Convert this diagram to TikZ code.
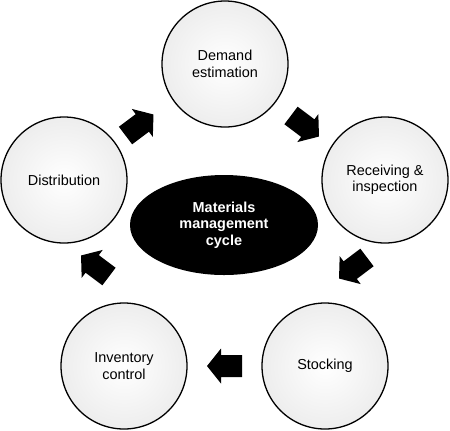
\documentclass[tikz,border=0pt]{standalone}
\usepackage{fontspec}
\setmainfont{Liberation Sans}
\usetikzlibrary{calc,shapes.geometric}

\tikzset{
  blockarrow/.pic={\fill (-17.5,-11) -- (3.5,-11) -- (3.5,-17.5) -- (17.5,0) -- (3.5,17.5) -- (3.5,11) -- (-17.5,11) -- cycle;}
}

\begin{document}
\begin{tikzpicture}[x=1bp,y=-1bp,
    stage/.style={circle,draw,line width=1.3bp,minimum size=126bp,inner sep=0pt,align=center,
      shading=radial,inner color=white,outer color=black!7,
      font=\fontsize{14.5}{16.5}\selectfont},
    hub/.style={ellipse,fill=black,minimum width=188bp,minimum height=100bp,inner sep=0pt,
      align=center,text=white,font=\fontsize{14.5}{16.5}\selectfont\bfseries}]
        \useasboundingbox (0,0) rectangle (450,430);
        % the five stages
        \node[stage] (demand) at (225,64) {Demand\\estimation};
        \node[stage] (recv) at (385,180) {Receiving \&\\inspection};
        \node[stage] (stock) at (325,366) {Stocking};
        \node[stage] (inv) at (124,366) {Inventory\\control};
        \node[stage] (dist) at (64,180) {Distribution};
        \node[hub] (cycle) at (224,225) {Materials\\management\\cycle};
        % block arrows between stages
        \pic[rotate=37] at ($(dist)!0.5!(demand)+(-5,3)$) {blockarrow};
        \pic[rotate=-37] at ($(demand)!0.5!(recv)+(0,4)$) {blockarrow};
        \pic[rotate=-143] at ($(recv)!0.5!(stock)+(-2,-5)$) {blockarrow};
        \pic[rotate=180] at ($(stock)!0.5!(inv)$) {blockarrow};
        \pic[rotate=143] at ($(inv)!0.5!(dist)+(1,-7)$) {blockarrow};
\end{tikzpicture}
\end{document}
